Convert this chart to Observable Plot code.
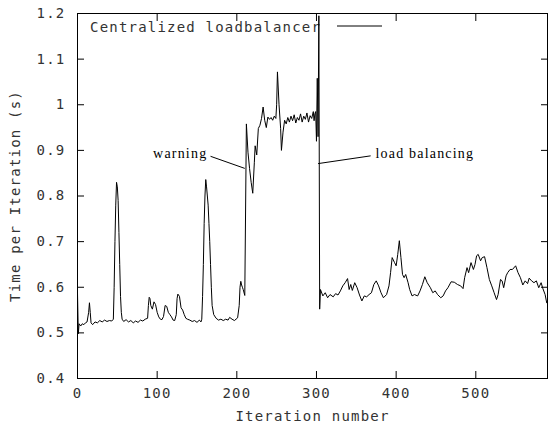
<!DOCTYPE html>
<html>
<head>
<meta charset="utf-8">
<script src="https://cdn.jsdelivr.net/npm/d3@7"></script>
<script src="https://cdn.jsdelivr.net/npm/@observablehq/plot@0.6"></script>
<style>
  html, body { margin: 0; padding: 0; background: #fff; }
</style>
</head>
<body>
<div id="chart"></div>
<script>
const iterations = [
  0,1,2,4,6,8,10,12,14,15,16,17,19,22,25,28,31,34,37,40,43,45,46,47,48,49,50,51,52,53,54,55,56,58,61,64,67,70,73,76,79,82,85,88,89,90,91,92,94,96,98,100,102,104,106,108,110,112,114,116,118,120,122,124,125,126,128,130,132,134,136,138,141,144,147,150,153,155,156,157,158,159,160,161,162,163,164,165,166,167,168,169,171,174,177,180,183,186,189,191,194,197,199,201,203,204,205,206,207,208,210,212,214,216,218,220,222,223,225,227,229,231,233,235,237,239,241,243,245,247,249,250,251,253,255,256,258,260,262,264,266,268,270,272,274,276,278,280,282,284,286,288,290,292,294,296,297,298,299,300,301,302,303,304,305,308,311,314,317,321,324,327,330,333,336,339,341,343,345,348,351,354,357,360,363,366,369,372,375,378,381,384,388,391,393,395,398,400,402,404,406,408,410,412,415,417,420,423,427,430,433,436,439,443,446,449,452,456,459,462,465,469,473,477,481,484,486,489,491,494,497,499,501,503,506,508,511,514,517,520,523,526,528,531,533,535,538,540,543,546,550,553,556,559,562,565,567,570,573,576,579,582,584,587,589
];
const times = [
  0.588,0.498,0.52,0.515,0.52,0.518,0.522,0.524,0.545,0.566,0.545,0.522,0.518,0.524,0.522,0.527,0.524,0.528,0.525,0.527,0.526,0.53,0.6,0.7,0.78,0.83,0.82,0.79,0.72,0.65,0.58,0.545,0.53,0.525,0.529,0.524,0.527,0.522,0.526,0.523,0.528,0.526,0.53,0.532,0.56,0.578,0.575,0.56,0.552,0.568,0.562,0.545,0.535,0.53,0.529,0.536,0.56,0.558,0.545,0.54,0.535,0.528,0.527,0.54,0.575,0.585,0.58,0.555,0.55,0.54,0.532,0.53,0.528,0.525,0.527,0.523,0.528,0.524,0.53,0.58,0.65,0.74,0.8,0.836,0.82,0.8,0.78,0.74,0.7,0.65,0.6,0.56,0.54,0.532,0.528,0.53,0.527,0.53,0.528,0.534,0.53,0.527,0.53,0.533,0.56,0.6,0.613,0.605,0.6,0.595,0.582,0.958,0.896,0.86,0.83,0.806,0.874,0.91,0.89,0.948,0.955,0.97,0.995,0.966,0.95,0.973,0.968,0.972,0.966,0.975,0.97,1.0,1.072,1.0,0.948,0.9,0.94,0.966,0.958,0.972,0.962,0.975,0.965,0.978,0.96,0.972,0.966,0.98,0.962,0.975,0.968,0.982,0.962,0.976,0.97,0.985,0.965,0.98,0.985,0.92,1.058,0.93,1.195,0.552,0.595,0.581,0.588,0.577,0.584,0.579,0.586,0.583,0.592,0.603,0.61,0.619,0.595,0.606,0.593,0.61,0.599,0.583,0.57,0.581,0.579,0.584,0.588,0.606,0.614,0.603,0.588,0.577,0.584,0.603,0.632,0.665,0.654,0.647,0.672,0.702,0.665,0.628,0.621,0.628,0.61,0.595,0.581,0.584,0.581,0.592,0.606,0.623,0.61,0.599,0.588,0.592,0.584,0.577,0.581,0.592,0.599,0.612,0.611,0.606,0.603,0.597,0.621,0.643,0.632,0.654,0.639,0.65,0.669,0.672,0.658,0.665,0.667,0.643,0.617,0.603,0.588,0.573,0.584,0.617,0.614,0.599,0.625,0.632,0.639,0.639,0.647,0.632,0.621,0.605,0.614,0.608,0.62,0.614,0.61,0.614,0.599,0.61,0.598,0.584,0.566,0.544
];
const xTicks = [0, 100, 200, 300, 400, 500];
const yTicks = [0.4, 0.5, 0.6, 0.7, 0.8, 0.9, 1.0, 1.1, 1.2];
const seriesName = "Centralized loadbalancer";
const xLabel = "Iteration number";
const yLabel = "Time per Iteration (s)";
const noteLabels = ["warning", "load balancing"];
const noteTextX = [163, 374];
const noteTextY = [0.893, 0.893];
const noteAnchor = ["end", "start"];
const leaderX1 = [167, 302];
const leaderY1 = [0.887, 0.871];
const leaderX2 = [210, 368];
const leaderY2 = [0.8605, 0.888];

const data = iterations.map((it, i) => ({iter: it, time: times[i]}));
const notes = noteLabels.map((t, i) => ({text: t, x: noteTextX[i], y: noteTextY[i], anchor: noteAnchor[i]}));
const leaders = leaderX1.map((x, i) => ({x1: x, y1: leaderY1[i], x2: leaderX2[i], y2: leaderY2[i]}));

const mono = "'DejaVu Sans Mono', monospace";
const fmtY = d => String(+d.toFixed(1));

function legendMark(index, scales, values, dims) {
  const g = d3.create("svg:g");
  const x0 = dims.marginLeft + 13;
  const y0 = dims.marginTop + 14;
  g.append("text")
    .attr("x", x0).attr("y", y0).attr("dy", "0.35em")
    .attr("text-anchor", "start")
    .attr("font-family", mono).attr("font-size", 14)
    .attr("letter-spacing", "1.2px").attr("fill", "#333")
    .text(seriesName);
  g.append("line")
    .attr("x1", x0 + 247).attr("x2", x0 + 292)
    .attr("y1", y0 - 1).attr("y2", y0 - 1)
    .attr("stroke", "#000").attr("stroke-width", 1);
  return g.node();
}

const serifText = {x: "x", y: "y", text: "text", fontFamily: "'Liberation Serif', serif", fontSize: 14, fill: "#000"};

const chart = Plot.plot({
  width: 549,
  height: 425,
  marginLeft: 77,
  marginRight: 2,
  marginTop: 13,
  marginBottom: 47,
  style: {fontFamily: mono, fontSize: "14px", color: "#333", background: "#fff", letterSpacing: "1.2px"},
  x: {domain: [0, 590], label: null},
  y: {domain: [0.4, 1.2], label: null},
  marks: [
    legendMark,
    Plot.axisX({anchor: "bottom", ticks: xTicks, tickSize: -7, tickPadding: 17, stroke: "#000", label: null}),
    Plot.axisX({anchor: "top", ticks: xTicks, tickSize: -7, tickFormat: () => "", stroke: "#000", label: null}),
    Plot.axisY({anchor: "left", ticks: yTicks, tickSize: -7, tickPadding: 19, tickFormat: fmtY, stroke: "#000", label: null}),
    Plot.axisY({anchor: "right", ticks: yTicks, tickSize: -7, tickFormat: () => "", stroke: "#000", label: null}),
    Plot.line(data, {x: "iter", y: "time", stroke: "#000", strokeWidth: 1}),
    Plot.link(leaders, {x1: "x1", y1: "y1", x2: "x2", y2: "y2", stroke: "#000", strokeWidth: 1}),
    Plot.text(notes.filter(d => d.anchor === "end"), {...serifText, textAnchor: "end", style: "letter-spacing:0"}),
    Plot.text(notes.filter(d => d.anchor === "start"), {...serifText, textAnchor: "start", style: "letter-spacing:0"}),
    Plot.text([xLabel], {frameAnchor: "bottom", dy: 38, lineAnchor: "middle", textAnchor: "middle", fill: "#333"}),
    Plot.text([yLabel], {frameAnchor: "left", dx: -62, rotate: -90, textAnchor: "middle", lineAnchor: "middle", fill: "#333"}),
    Plot.frame({stroke: "#000", strokeWidth: 1})
  ]
});
document.getElementById("chart").appendChild(chart);
</script>
</body>
</html>
